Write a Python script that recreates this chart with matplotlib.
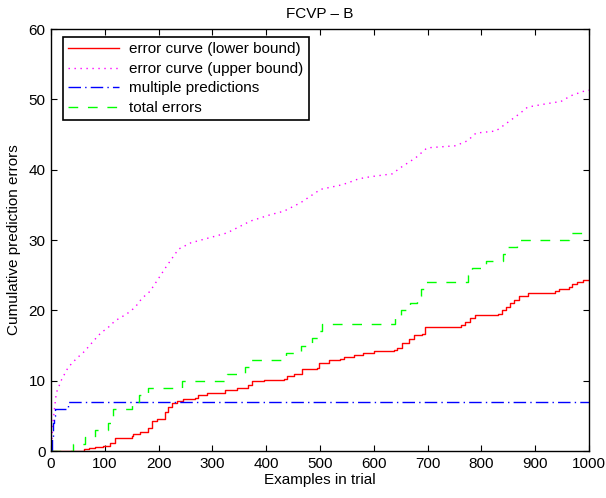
import matplotlib
matplotlib.use("Agg")
import matplotlib.pyplot as plt

# lower bound of the error curve (step values)
red_x = [0, 62, 70, 82, 97, 110, 119, 150, 153, 166, 181, 187, 197, 212, 218, 225, 234, 246, 268, 274,
         290, 321, 324, 346, 367, 374, 395, 433, 439, 451, 467, 495, 498, 516, 538, 544, 563, 579, 600, 637,
         644, 653, 665, 675, 690, 696, 762, 770, 778, 788, 830, 838, 846, 853, 860, 870, 886, 936, 945, 962,
         968, 978, 988, 1000]
red_y = [0, 0.3, 0.45, 0.6, 0.75, 1.1, 1.9, 2.1, 2.4, 2.75, 3.2, 4.2, 4.6, 5.6, 6.3, 6.8, 7.1, 7.35, 7.5, 7.9,
         8.2, 8.3, 8.7, 8.9, 9.4, 9.9, 10.1, 10.2, 10.6, 10.9, 11.6, 11.75, 12.55, 12.9, 13.1, 13.4, 13.7, 14.0, 14.2, 14.35,
         14.7, 15.3, 15.9, 16.5, 16.7, 17.6, 17.9, 18.4, 18.9, 19.3, 19.5, 20.0, 20.5, 21.0, 21.4, 22.0, 22.5, 22.7, 23.0, 23.3,
         23.8, 24.0, 24.3, 24.3]

# upper bound of the error curve
mag_x = [0, 2, 4, 7, 10, 20, 32, 48, 60, 66, 82, 94, 104, 119, 141, 156, 169, 184, 197, 215, 237, 260, 284,
         327, 371, 408, 433, 464, 501, 538, 551, 572, 594, 634, 650, 678, 693, 699, 752, 774, 790, 827, 845,
         870, 886, 923, 948, 966, 988, 1000]
mag_y = [0, 2, 4.3, 6.4, 8.3, 10.2, 11.9, 13.2, 14.0, 14.5, 15.9, 16.9, 17.4, 18.5, 19.5, 20.4, 21.7, 22.7, 24.2,
         26.3, 28.7, 29.6, 30.1, 31.0, 32.7, 33.6, 34.1, 35.3, 37.2, 37.8, 38.1, 38.7, 39.0, 39.4, 40.3, 41.7, 42.7,
         43.1, 43.4, 44.1, 45.2, 45.5, 46.5, 47.9, 48.9, 49.4, 49.7, 50.5, 51.1, 51.3]

# multiple predictions
blue_x = [0, 2, 3, 4, 5, 8, 31, 1000]
blue_y = [0, 2, 3, 4, 5, 6, 7, 7]

# total errors
green_x = [0, 41, 63, 82, 106, 112, 116, 150, 164, 181, 243, 327, 360, 371, 436, 464, 485, 498, 504, 640,
           650, 668, 680, 688, 693, 776, 783, 808, 840, 845, 867, 963, 1000]
green_y = [0, 1, 2, 3, 4, 5, 6, 7, 8, 9, 10, 11, 12, 13, 14, 15, 16, 17, 18, 19,
           20, 21, 22, 23, 24, 25, 26, 27, 28, 29, 30, 31, 31]

plt.rcParams['font.family'] = ['Liberation Sans', 'DejaVu Sans']
plt.rcParams['font.size'] = 11

fig = plt.figure(figsize=(6.06, 4.98), dpi=100)
ax = fig.add_axes([51 / 606, 47 / 498, 538 / 606, 422 / 498])

ax.step(red_x, red_y, where='post', color='#ff0000', lw=1, label='error curve (lower bound)')
ax.plot(mag_x, mag_y, color='#ff00ff', lw=1, dashes=(1, 3.3), label='error curve (upper bound)')
ax.step(blue_x, blue_y, where='post', color='#0000ff', lw=1, dashes=(9, 3, 1, 3), label='multiple predictions')
ax.step(green_x, green_y, where='post', color='#00ff00', lw=1, dashes=(7, 7), label='total errors')

ax.set_xlim(0, 1000)
ax.set_ylim(0, 60)
ax.set_xticks(range(0, 1001, 100))
ax.set_yticks(range(0, 61, 10))
ax.tick_params(direction='in', top=True, right=True, length=4, width=0.8, pad=4)
for s in ax.spines.values():
    s.set_linewidth(1)

ax.set_title('FCVP – B', fontsize=11, pad=8)
ax.set_xlabel('Examples in trial', labelpad=2)
ax.set_ylabel('Cumulative prediction errors', labelpad=5)

leg = ax.legend(loc='upper left', bbox_to_anchor=(12 / 538, 1 - 8 / 422), borderaxespad=0,
                fancybox=False, framealpha=1, edgecolor='black', handlelength=3.3,
                handletextpad=0.7, labelspacing=0.36, borderpad=0.35)
leg.get_frame().set_linewidth(1.2)

fig.savefig('out.png', dpi=100)
